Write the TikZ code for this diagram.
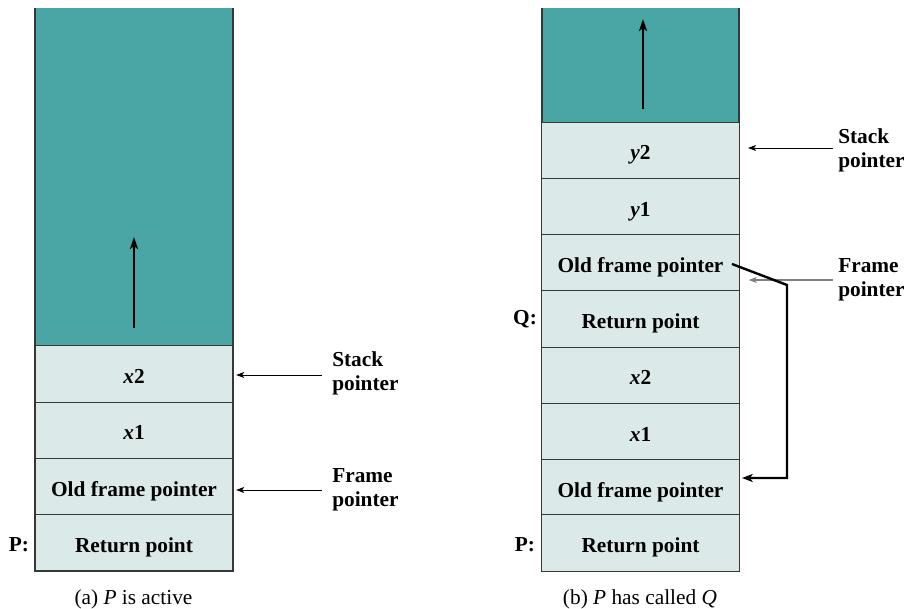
\documentclass[tikz,border=0pt]{standalone}
\usepackage{fontspec}
\setmainfont{Liberation Serif}
\usetikzlibrary{arrows.meta}
\definecolor{tealA}{RGB}{74,165,165}
\definecolor{cellf}{RGB}{220,233,233}
\definecolor{edgec}{RGB}{55,55,55}
\tikzset{
 cell/.style={draw=edgec, fill=cellf, line width=0.8pt, minimum width=148.5pt, minimum height=42.2pt, inner sep=0pt, text height=14.4pt, text depth=0pt, font=\fontsize{16}{18}\selectfont\bfseries},
 lbl/.style={align=left, anchor=west, font=\fontsize{16}{18}\selectfont\bfseries, inner sep=0pt},
 side/.style={font=\fontsize{16}{18}\selectfont\bfseries, inner sep=0pt},
 ptr/.style={-{Stealth[length=6pt,width=4.5pt,inset=1.5pt]}, line width=0.6pt},
 grayptr/.style={-{Stealth[length=6pt,width=4.5pt,inset=1.5pt]}, line width=0.8pt, draw=gray},
 uparrow/.style={-{Stealth[length=9pt,width=6pt,inset=2pt]}, line width=1.6pt},
 link/.style={-{Stealth[length=8pt,width=6pt,inset=2pt]}, line width=1.8pt},
 captxt/.style={font=\fontsize{16}{19}\selectfont, inner sep=0pt}
}
\begin{document}
\begin{tikzpicture}[x=0.75pt,y=-0.75pt]
\useasboundingbox (0,0) rectangle (911,609);
% ---------- (a) ----------
\fill[tealA] (35,8) rectangle (233,346);
\draw[edgec, line width=0.8pt] (35,8) -- (35,346) (233,8) -- (233,346);
\node[cell] (x2A) at (134,374) {\textit{x}2};
\node[cell] (x1A) at (134,430.3) {\textit{x}1};
\node[cell] (ofpA) at (134,486.6) {Old frame pointer};
\node[cell] (rpA) at (134,542.9) {Return point};
\coordinate (upA0) at (134,328);
\coordinate (upA1) at (134,237);
\draw[uparrow] (upA0) -- (upA1);
\node[lbl] (spA) at (332,373) {Stack\\pointer};
\draw[ptr] ([xshift=-7.5pt,yshift=-1.5pt]spA.west) -- ([xshift=2pt,yshift=-1.5pt]spA.west -| x2A.east);
\node[lbl] (fpA) at (332,490) {Frame\\pointer};
\draw[ptr] ([xshift=-7.5pt]fpA.west) -- ([xshift=2pt]fpA.west -| ofpA.east);
\node[side] (pA) at (19,545) {P:};
\node[captxt] (capA) at (133.5,599) {(a) \textit{P} is active};
% ---------- (b) ----------
\fill[tealA] (542,8) rectangle (739,122);
\draw[edgec, line width=0.8pt] (542,8) -- (542,122) (739,8) -- (739,122);
\node[cell] (y2B) at (640.5,150.2) {\textit{y}2};
\node[cell] (y1B) at (640.5,206.5) {\textit{y}1};
\node[cell] (ofpQ) at (640.5,262.8) {Old frame pointer};
\node[cell] (rpQ) at (640.5,319.1) {Return point};
\node[cell] (x2B) at (640.5,375.4) {\textit{x}2};
\node[cell] (x1B) at (640.5,431.7) {\textit{x}1};
\node[cell] (ofpB) at (640.5,488) {Old frame pointer};
\node[cell] (rpB) at (640.5,543) {Return point};
\coordinate (upB0) at (643,109);
\coordinate (upB1) at (643,19);
\draw[uparrow] (upB0) -- (upB1);
\node[lbl] (spB) at (838,150) {Stack\\pointer};
\draw[ptr] ([xshift=-4pt,yshift=1.5pt]spB.west) -- ([xshift=6pt,yshift=1.5pt]spB.west -| y2B.east);
\node[lbl] (fpB) at (838,280) {Frame\\pointer};
\draw[grayptr] ([xshift=-3.5pt]fpB.west) -- ([xshift=6.5pt]fpB.west -| ofpQ.east);
\coordinate (lk0) at (732,264);
\coordinate (lk1) at (787,285);
\coordinate (lk2) at (787,478);
\coordinate (lk3) at (742,478);
\draw[link] (lk0) -- (lk1) -- (lk2) -- (lk3);
\node[side] (qB) at (525,319) {Q:};
\node[side] (pB) at (525,545) {P:};
\node[captxt] (capB) at (640,599) {(b) \textit{P} has called \textit{Q}};
\end{tikzpicture}
\end{document}
